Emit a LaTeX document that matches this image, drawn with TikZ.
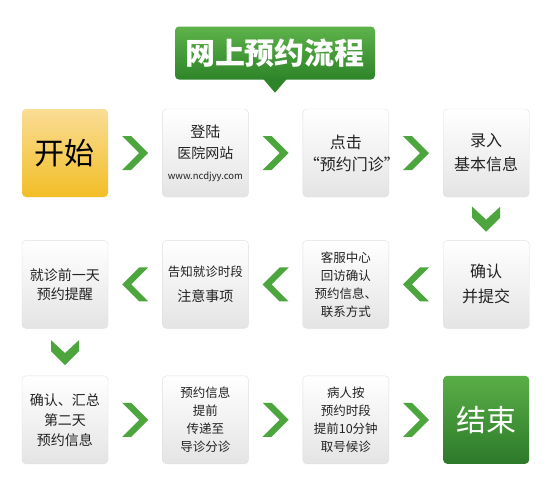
\documentclass[tikz,border=0pt]{standalone}
\usepackage{fontspec}
\usepackage{tikz}
\usetikzlibrary{positioning,calc}
\setmainfont{Noto Sans CJK SC}
\definecolor{flowGreen}{HTML}{4CA63D}
\definecolor{titleTop}{HTML}{5DB24A}
\definecolor{titleBottom}{HTML}{2E8529}
\definecolor{startTop}{HTML}{FADD96}
\definecolor{startBottom}{HTML}{F2BE26}
\definecolor{endTop}{HTML}{5AAE47}
\definecolor{endBottom}{HTML}{2C7A2A}
\definecolor{boxEdge}{HTML}{E0E0E0}
\definecolor{boxBottom}{HTML}{E4E4E4}
\definecolor{inkGray}{HTML}{222222}

\begin{document}
\begin{tikzpicture}[
  x=1pt, y=-1pt,
  node distance=54pt,
  box/.style={draw=boxEdge, rounded corners=4pt, align=center,
              top color=white, bottom color=boxBottom, text=inkGray,
              text width=84pt, inner xsep=1pt, inner ysep=0pt,
              minimum height=88pt,
              font=\fontsize{15}{21}\selectfont},
  small/.style={font=\fontsize{12.5}{18}\selectfont},
  big/.style={font=\fontsize{30}{34}\selectfont},
  title/.style={rounded corners=4pt, top color=titleTop, bottom color=titleBottom,
                text=white, minimum width=200pt, minimum height=53pt, inner sep=0pt,
                font=\bfseries\fontsize{30}{32}\selectfont},
  chevr/.pic={\fill[flowGreen] (-13,-17) -- (-4,-17) -- (13,0) -- (-4,17) -- (-13,17) -- (4,0) -- cycle;},
  chevd/.pic={\fill[flowGreen] (-14,-12) -- (0,1) -- (14,-12) -- (14,-1) -- (0,13) -- (-14,-1) -- cycle;}
]
\useasboundingbox[fill=white] (0,0) rectangle (550,501);

\node[title] (title) at (275,53) {网上预约流程};
\fill[titleBottom] ($(title.south)+(-12,-1)$) -- ($(title.south)+(0,13)$) -- ($(title.south)+(12,-1)$) -- cycle;

% row 1
\node[box, big, draw=none, top color=startTop, bottom color=startBottom, text=black] (start) at (65,153) {开始};
\node[box, right=of start] (login) {登陆\\{\fontsize{14}{20}\selectfont 医院网站}\\{\fontsize{9.5}{12}\selectfont www.ncdjyy.com}};
\node[box, right=of login, font=\fontsize{16}{22}\selectfont] (click) {点击\\“预约门诊”};
\node[box, right=of click, font=\fontsize{16}{24}\selectfont] (input) {录入\\基本信息};
% row 2
\node[box, below=43pt of input, font=\fontsize{16}{25}\selectfont] (submit) {确认\\并提交};
\node[box, small, left=of submit] (callback) {客服中心\\回访确认\\预约信息、\\联系方式};
\node[box, left=of callback, font=\fontsize{12.5}{25}\selectfont] (notice) {告知就诊时段\\{\fontsize{14}{14}\selectfont 注意事项}};
\node[box, left=of notice, font=\fontsize{14}{19}\selectfont] (remind) {就诊前一天\\预约提醒};
% row 3
\node[box, below=47pt of remind, font=\fontsize{14}{20}\selectfont] (summary) {确认、汇总\\第二天\\预约信息};
\node[box, small, right=of summary] (transfer) {预约信息\\提前\\传递至\\导诊分诊};
\node[box, small, right=of transfer] (arrive) {病人按\\预约时段\\提前10分钟\\取号候诊};
\node[box, big, draw=none, right=of arrive, top color=endTop, bottom color=endBottom, text=white] (finish) {结束};

% chevrons
\path ($(start.east)!0.5!(login.west)$) pic {chevr};
\path ($(login.east)!0.5!(click.west)$) pic {chevr};
\path ($(click.east)!0.5!(input.west)$) pic {chevr};
\path ($(input.south)!0.5!(submit.north)$) pic {chevd};
\path ($(submit.west)!0.5!(callback.east)$) pic[rotate=180] {chevr};
\path ($(callback.west)!0.5!(notice.east)$) pic[rotate=180] {chevr};
\path ($(notice.west)!0.5!(remind.east)$) pic[rotate=180] {chevr};
\path ($(remind.south)!0.5!(summary.north)$) pic {chevd};
\path ($(summary.east)!0.5!(transfer.west)$) pic {chevr};
\path ($(transfer.east)!0.5!(arrive.west)$) pic {chevr};
\path ($(arrive.east)!0.5!(finish.west)$) pic {chevr};
\end{tikzpicture}
\end{document}
